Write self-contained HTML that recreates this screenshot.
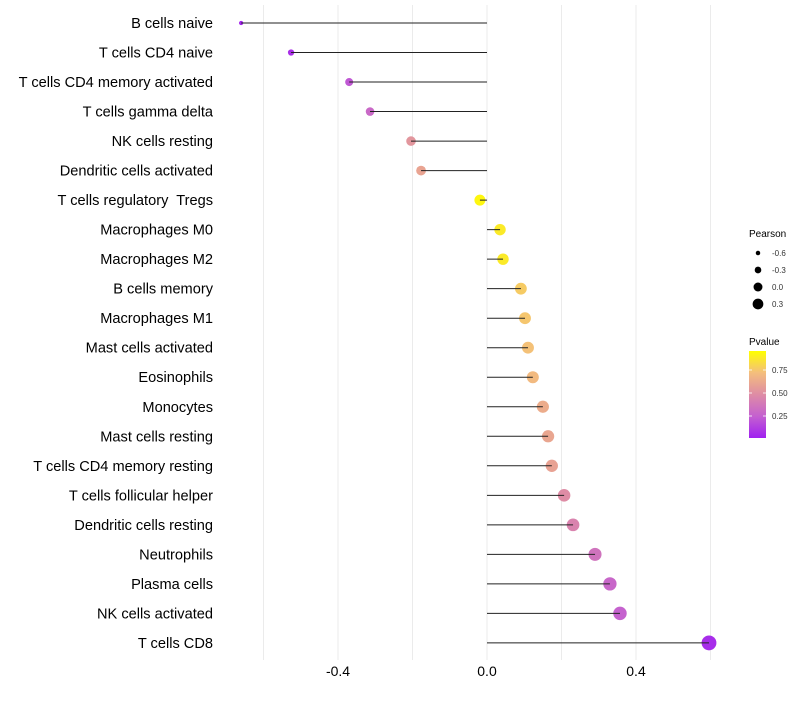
<!DOCTYPE html>
<html><head><meta charset="utf-8"><style>
body{margin:0;background:#fff;font-family:"Liberation Sans",sans-serif}
svg text{font-family:"Liberation Sans",sans-serif;white-space:pre}
</style></head><body>
<svg id="c" width="800" height="700"></svg>
<script>
const categories=["B cells naive","T cells CD4 naive","T cells CD4 memory activated","T cells gamma delta","NK cells resting","Dendritic cells activated","T cells regulatory  Tregs","Macrophages M0","Macrophages M2","B cells memory","Macrophages M1","Mast cells activated","Eosinophils","Monocytes","Mast cells resting","T cells CD4 memory resting","T cells follicular helper","Dendritic cells resting","Neutrophils","Plasma cells","NK cells activated","T cells CD8"];
const pearson=[-0.66,-0.526,-0.370,-0.314,-0.204,-0.177,-0.019,0.035,0.043,0.091,0.102,0.110,0.123,0.150,0.164,0.174,0.207,0.231,0.290,0.330,0.357,0.596];
const pvalue=[0.02,0.06,0.22,0.30,0.55,0.62,0.97,0.92,0.92,0.80,0.78,0.76,0.73,0.66,0.63,0.61,0.50,0.45,0.36,0.29,0.26,0.05];
const xTicks=[-0.4,0.0,0.4];
const xGrid=[-0.6,-0.2,0.2,0.6];
const sizeLegend=[-0.6,-0.3,0.0,0.3];
const colorTicks=[0.25,0.50,0.75];
const NS="http://www.w3.org/2000/svg";
const svg=document.getElementById('c');
const X=v=>487+v*372.5;
const Y=i=>23+i*29.52;
const R=v=>Math.sqrt(Math.max(4,31+40*v));
const LR=v=>Math.sqrt(Math.max(5,20+30*v));
const stops=[[0,[160,32,240]],[0.25,[196,96,208]],[0.5,[222,140,165]],[0.75,[244,190,125]],[1,[255,255,0]]];
function col(p){for(let k=0;k<stops.length-1;k++){const [p0,a]=stops[k],[p1,b]=stops[k+1];if(p<=p1){const t=(p-p0)/(p1-p0);return `rgb(${a.map((c,j)=>Math.round(c+(b[j]-c)*t)).join(',')})`;}}return 'rgb(255,255,0)';}
function el(t,at,txt){const e=document.createElementNS(NS,t);for(const k in at)e.setAttribute(k,at[k]);if(txt!==undefined)e.textContent=txt;svg.appendChild(e);return e;}
xGrid.concat(xTicks).forEach(v=>{const g=el('line',{x1:X(v),x2:X(v),y1:5,y2:660,stroke:'#ebebeb','stroke-width':1});

});
xTicks.forEach(v=>{const t=el('text',{x:X(v),y:676,'text-anchor':'middle','font-size':14,fill:'#000'},v.toFixed(1));

});
categories.forEach((c,i)=>{const y=Y(i);
const t=el('text',{x:213,y:y+5,'text-anchor':'end','font-size':14.6,fill:'#000'},c);


const pt=el('circle',{cx:X(pearson[i]),cy:y,r:R(pearson[i]),fill:col(pvalue[i])});


const ln=el('line',{x1:X(0),x2:X(pearson[i]),y1:y,y2:y,stroke:'#222','stroke-width':1});

});
let lt=el('text',{x:749,y:237,'font-size':10,fill:'#000'},'Pearson');


sizeLegend.forEach((v,i)=>{const y=253+i*17;
const c=el('circle',{cx:758,cy:y,r:LR(v),fill:'#000'});


const t=el('text',{x:772,y:y+3,'font-size':8,fill:'#333'},v.toFixed(1));

});
lt=el('text',{x:749,y:345,'font-size':10,fill:'#000'},'Pvalue');


const defs=el('defs',{});
const lg=document.createElementNS(NS,'linearGradient');lg.setAttribute('id','g');lg.setAttribute('x1',0);lg.setAttribute('y1',1);lg.setAttribute('x2',0);lg.setAttribute('y2',0);
stops.forEach(s=>{const st=document.createElementNS(NS,'stop');st.setAttribute('offset',s[0]);st.setAttribute('stop-color',col(s[0]));lg.appendChild(st);});
defs.appendChild(lg);
const cb=el('rect',{x:749,y:351,width:17,height:87,fill:'url(#g)'});


colorTicks.forEach(v=>{const y=439-v*92;
el('line',{x1:749,x2:752,y1:y,y2:y,stroke:'#fff','stroke-width':0.8});
el('line',{x1:763,x2:766,y1:y,y2:y,stroke:'#fff','stroke-width':0.8});
const t=el('text',{x:772,y:y+3,'font-size':8,fill:'#333'},v.toFixed(2));

});
</script>
</body></html>
